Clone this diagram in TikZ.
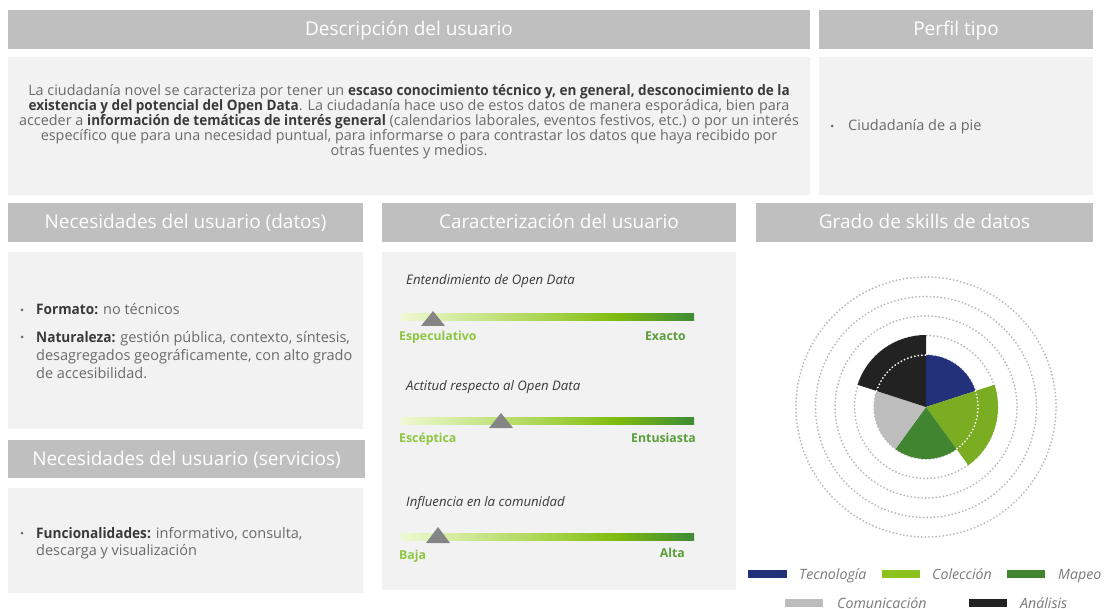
\documentclass[tikz,border=0pt]{standalone}
\usepackage{fontspec}
\setmainfont{Open Sans}
\newfontfamily\cbf{Open Sans}[FakeStretch=0.94]
\definecolor{hdrgray}{HTML}{BFBFBF}
\definecolor{bodygray}{HTML}{F2F2F2}
\definecolor{tgray}{HTML}{6A6A6A}
\definecolor{tdark}{HTML}{3A3A3A}
\definecolor{navy}{HTML}{22317A}
\definecolor{lime}{HTML}{7BAD22}
\definecolor{limeleg}{HTML}{8CC21F}
\definecolor{mapeo}{HTML}{418530}
\definecolor{comgray}{HTML}{BDBDBD}
\definecolor{anblack}{HTML}{222222}
\definecolor{lgreen}{HTML}{8DC63F}
\definecolor{dgreen}{HTML}{5A9E3A}
\definecolor{trigray}{HTML}{858585}
\definecolor{gA}{HTML}{EEF9D2}
\definecolor{gB}{HTML}{A8D44C}
\definecolor{gC}{HTML}{7EBB10}
\definecolor{gD}{HTML}{3D8B35}
\definecolor{ring}{HTML}{B8B8B8}
\definecolor{leggray}{HTML}{7A7A7A}
\pgfdeclarehorizontalshading{bargrad}{100bp}{color(0bp)=(gA); color(25bp)=(gA); color(50bp)=(gB); color(62bp)=(gC); color(75bp)=(gD); color(100bp)=(gD)}
\newcommand\bt[1]{{\cbf\bfseries\color{tdark}#1}}
\tikzset{
  hdrbox/.style={fill=hdrgray},
  bodybox/.style={fill=bodygray},
  hdrtxt/.style={text=white, font=\fontsize{19}{22}\selectfont, anchor=base, inner sep=0pt},
  desctxt/.style={text=tgray, font=\fontsize{14.4}{15}\selectfont, anchor=base, inner sep=0pt},
  listtxt/.style={text=tgray, font=\fontsize{14.5}{18}\selectfont, anchor=base west, inner sep=0pt},
  bulletdot/.style={circle, fill=tgray, inner sep=0pt, minimum size=3pt},
  slidertitle/.style={text=tdark, font=\fontsize{13.2}{15}\selectfont\itshape, anchor=base west, inner sep=0pt},
  lowlbl/.style={text=lgreen, font=\bfseries\fontsize{12.3}{15}\selectfont, anchor=base west, inner sep=0pt},
  highlbl/.style={text=dgreen, font=\bfseries\fontsize{12.3}{15}\selectfont, anchor=base east, inner sep=0pt},
  marker/.style={fill=trigray},
  ringline/.style={draw=ring, line width=2pt, dash pattern=on 0pt off 3.6pt, line cap=round},
  whitering/.style={draw=white, line width=2pt, dash pattern=on 0pt off 3.6pt, line cap=round},
  legtxt/.style={text=leggray, font=\fontsize{14.2}{16}\selectfont\itshape, anchor=base west, inner sep=0pt},
}
\begin{document}
\begin{tikzpicture}[x=1pt,y=-1pt]
\useasboundingbox (0,0) rectangle (1105,609);
\fill[white] (0,0) rectangle (1105,609);
% panels
\fill[hdrbox] (8,10) rectangle (810,49);
\fill[bodybox] (8,57) rectangle (810,195);
\fill[hdrbox] (819,10) rectangle (1093,49);
\fill[bodybox] (819,57) rectangle (1093,195);
\fill[hdrbox] (8,203) rectangle (363,242);
\fill[bodybox] (8,252) rectangle (363,429);
\fill[hdrbox] (382,203) rectangle (736,242);
\fill[bodybox] (382,252) rectangle (736,590);
\fill[hdrbox] (756,203) rectangle (1093,242);
\fill[hdrbox] (8,440) rectangle (365,478);
\fill[bodybox] (8,488) rectangle (363,593);
% headers
\node[hdrtxt] (h1) at (409,36) {Descripción del usuario};
\node[hdrtxt] (h2) at (956,36) {Perfil tipo};
\node[hdrtxt] (h3) at (185.5,229) {Necesidades del usuario (datos)};
\node[hdrtxt] (h4) at (559,229) {Caracterización del usuario};
\node[hdrtxt] (h5) at (924.5,229) {Grado de skills de datos};
\node[hdrtxt] (h6) at (186.5,465.5) {Necesidades del usuario (servicios)};
% description
\node[desctxt] (d1) at (409,96) {La ciudadanía novel se caracteriza por tener un \bt{escaso conocimiento técnico y, en general, desconocimiento de la}};
\node[desctxt] (d2) at (409,111) {\bt{existencia y del potencial del Open Data}. La ciudadanía hace uso de estos datos de manera esporádica, bien para};
\node[desctxt] (d3) at (409,126) {acceder a \bt{información de temáticas de interés general} (calendarios laborales, eventos festivos, etc.) o por un interés};
\node[desctxt] (d4) at (409,141) {específico que para una necesidad puntual, para informarse o para contrastar los datos que haya recibido por};
\node[desctxt] (d5) at (409,156) {otras fuentes y medios.};
% perfil
\node[bulletdot] (pb) at (832,126) {};
\node[listtxt] (p1) at (848,131) {Ciudadanía de a pie};
% necesidades datos
\node[bulletdot] (nb1) at (22,310) {};
\node[listtxt] (n1) at (36,315) {\bt{Formato:} no técnicos};
\node[bulletdot] (nb2) at (22,337) {};
\node[listtxt] (n2) at (36,342) {\bt{Naturaleza:} gestión pública, contexto, síntesis,};
\node[listtxt] (n3) at (36,360) {desagregados geográficamente, con alto grado};
\node[listtxt] (n4) at (36,378) {de accesibilidad.};
% necesidades servicios
\node[bulletdot] (sb1) at (22,533) {};
\node[listtxt] (s1) at (36,538) {\bt{Funcionalidades:} informativo, consulta,};
\node[listtxt] (s2) at (36,555) {descarga y visualización};
% sliders
\node[slidertitle] (t1) at (406,285) {Entendimiento de Open Data};
\shade[shading=bargrad] (401,314) rectangle (694,321);
\fill[marker] (433,311) -- (445,326) -- (421,326) -- cycle;
\node[lowlbl] (l1) at (399,341) {Especulativo};
\node[highlbl] (r1) at (686,341) {Exacto};
\node[slidertitle] (t2) at (406,390) {Actitud respecto al Open Data};
\shade[shading=bargrad] (401,417) rectangle (694,424);
\fill[marker] (501,413) -- (513,428) -- (489,428) -- cycle;
\node[lowlbl] (l2) at (399,442) {Escéptica};
\node[highlbl] (r2) at (696,442) {Entusiasta};
\node[slidertitle] (t3) at (406,506) {Influencia en la comunidad};
\shade[shading=bargrad] (401,533) rectangle (694,540);
\fill[marker] (438,527) -- (450,543) -- (426,543) -- cycle;
\node[lowlbl] (l3) at (399,559) {Baja};
\node[highlbl] (r3) at (685,557) {Alta};
% polar chart (explicit pt radii: canvas orientation, y up)
\begin{scope}[shift={(926,407)}]
  \foreach \r in {52,71.5,91,110.5,130} \draw[ringline] (0,0) circle[radius=\r pt];
  \fill[navy] (0,0) -- (90:52pt) arc[start angle=90, end angle=18, radius=52pt] -- cycle;
  \fill[lime] (0,0) -- (18:72pt) arc[start angle=18, end angle=-54, radius=72pt] -- cycle;
  \fill[mapeo] (0,0) -- (-54:52pt) arc[start angle=-54, end angle=-126, radius=52pt] -- cycle;
  \fill[comgray] (0,0) -- (-126:52pt) arc[start angle=-126, end angle=-198, radius=52pt] -- cycle;
  \fill[anblack] (0,0) -- (162:72pt) arc[start angle=162, end angle=90, radius=72pt] -- cycle;
  \draw[whitering] (18:52pt) arc[start angle=18, end angle=-54, radius=52pt];
  \draw[whitering] (162:52pt) arc[start angle=162, end angle=90, radius=52pt];
\end{scope}
% legend
\fill[navy] (748,570) rectangle (787,578);
\node[legtxt] (g1) at (799,579) {Tecnología};
\fill[limeleg] (882,570) rectangle (920,578);
\node[legtxt] (g2) at (932,579) {Colección};
\fill[mapeo] (1007,570) rectangle (1045,578);
\node[legtxt] (g3) at (1058,579) {Mapeo};
\fill[comgray] (785,599) rectangle (823,607);
\node[legtxt] (g4) at (837,608) {Comunicación};
\fill[anblack] (969,599) rectangle (1007,607);
\node[legtxt] (g5) at (1020,608) {Análisis};
\end{tikzpicture}
\end{document}
